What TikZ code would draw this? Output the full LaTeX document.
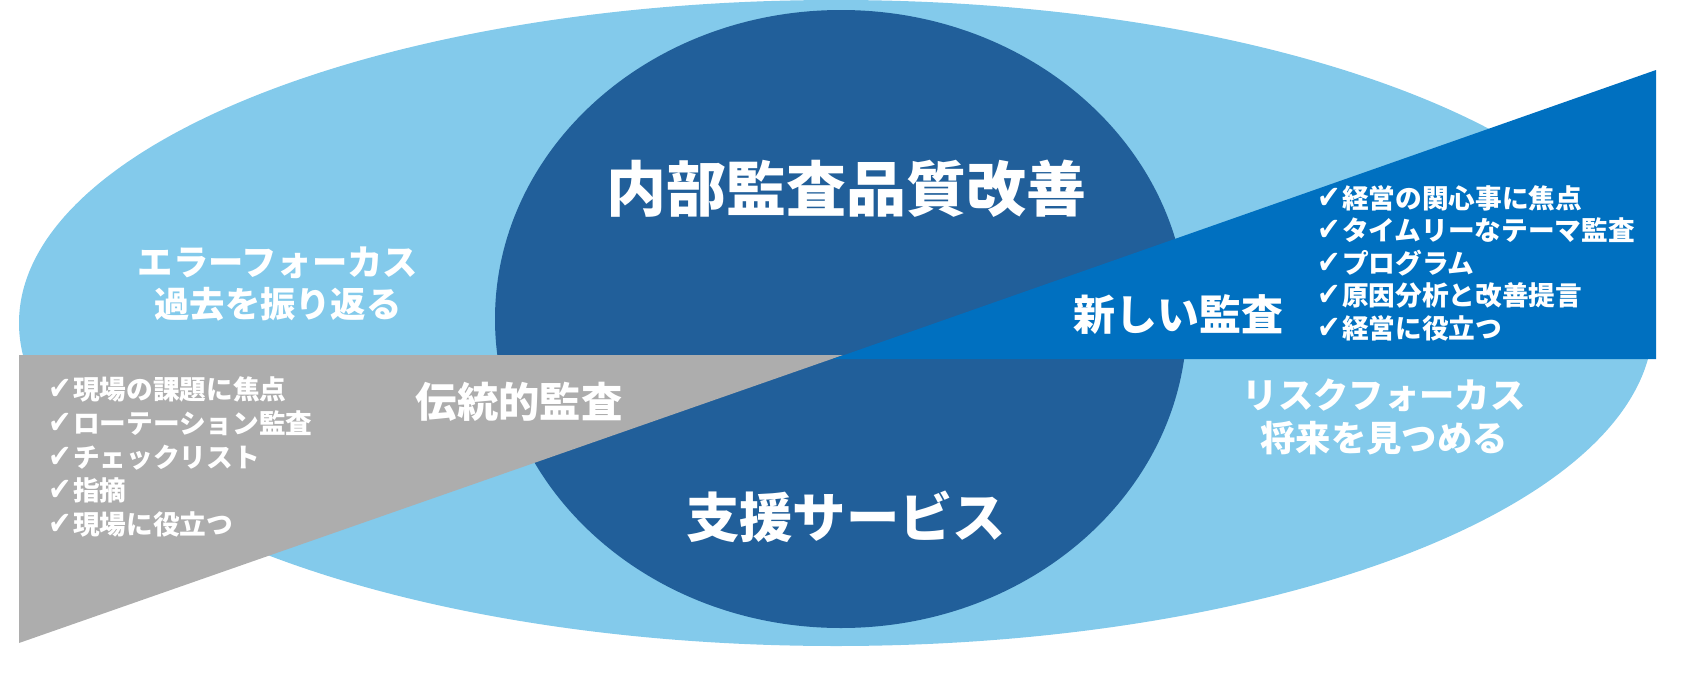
\documentclass[tikz,border=0pt]{standalone}
\usepackage{fontspec}
\newfontfamily\jpfont{Noto Sans CJK JP}
\newfontfamily\symfont{DejaVu Sans}
\definecolor{skyblue}{HTML}{83CAEB}
\definecolor{navyblue}{HTML}{215F9A}
\definecolor{brightblue}{HTML}{0070C0}
\definecolor{greyfill}{HTML}{ADADAD}
\newcommand{\chk}{{\symfont\bfseries\scalebox{1.05}[1.2]{✔}}\hspace{0.05em}}

\begin{document}
\begin{tikzpicture}[x=0.75pt,y=-0.75pt]
		\tikzset{heading/.style = {text=white,inner sep=0pt,align=center,font=\jpfont\bfseries\fontsize{#1}{#1}\selectfont}}
		\tikzset{focus/.style = {text=white,inner sep=0pt,align=center,font=\jpfont\bfseries\fontsize{26.5}{32}\selectfont}}
		\tikzset{checklist/.style = {text=white,inner sep=0pt,align=left,anchor=west,font=\jpfont\bfseries\fontsize{20}{#1}\selectfont}}

		\useasboundingbox (0,0) rectangle (1689,675);

		% ellipses
		\fill[skyblue] (836,323) ellipse [x radius=817, y radius=323];
		\fill[navyblue] (841,319) ellipse [x radius=346, y radius=309];

		% wedges
		\fill[greyfill] (19,355) -- (843,355) -- (19,643) -- cycle;
		\fill[brightblue] (833,359) -- (1656,359) -- (1656,70) -- cycle;

		% headings
		\node[heading=45] (quality) at (846,189) {内部監査品質改善};
		\node[heading=40] (support) at (846,517) {支援サービス};
		\node[heading=31.5] (newaudit) at (1178,315) {新しい監査};
		\node[heading=31] (oldaudit) at (519,402) {伝統的監査};

		% focus
		\node[focus] (past) at (278,284) {エラーフォーカス\\過去を振り返る};
		\node[focus] (future) at (1384,417) {リスクフォーカス\\将来を見つめる};

		% lists
		\node[checklist=24.4] (newlist) at (1317,263) {\chk 経営の関心事に焦点\\\chk タイムリーなテーマ監査\\\chk プログラム\\\chk 原因分析と改善提言\\\chk 経営に役立つ};
		\node[checklist=25.3] (oldlist) at (48,457) {\chk 現場の課題に焦点\\\chk ローテーション監査\\\chk チェックリスト\\\chk 指摘\\\chk 現場に役立つ};
	\end{tikzpicture}
\end{document}
